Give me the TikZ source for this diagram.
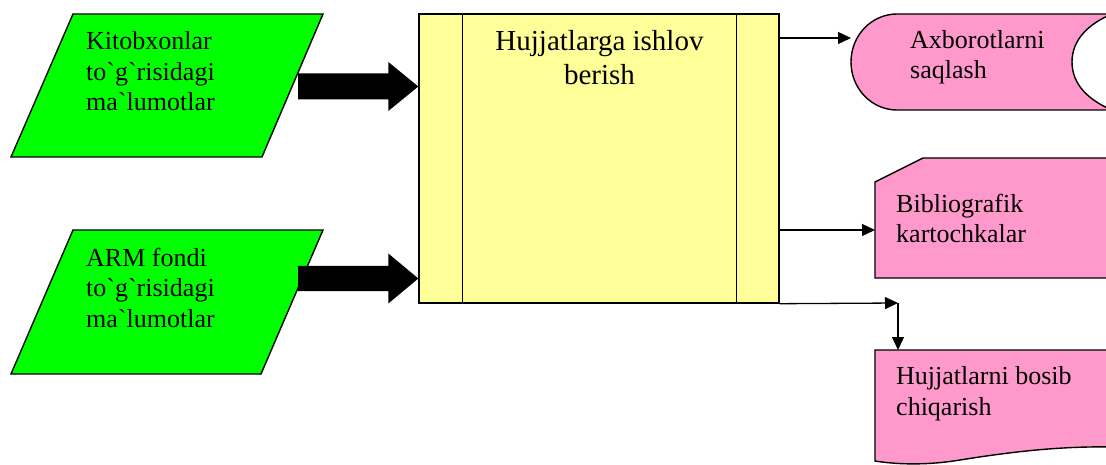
\documentclass[tikz,border=0pt]{standalone}
\usepackage{fontspec}
\setmainfont{Liberation Serif}[Ligatures=TeXOff]
\usetikzlibrary{arrows.meta,calc}
\definecolor{ingreen}{HTML}{00FF00}
\definecolor{procyellow}{HTML}{FFFF99}
\definecolor{outpink}{HTML}{FF99CC}
\tikzset{
  shapeline/.style={draw=black,line width=1.4pt,line join=miter},
  inbox/.style={shapeline,fill=ingreen},
  outbox/.style={shapeline,fill=outpink},
  procbox/.style={shapeline,fill=procyellow,minimum width=360pt,minimum height=289pt,inner sep=0pt},
  txt/.style={inner sep=0pt,anchor=base west,align=left,font=\fontsize{26}{30.5}\selectfont},
  heading/.style={inner sep=0pt,anchor=base,align=center,font=\fontsize{29}{34}\selectfont},
  conn/.style={draw=black,line width=1.3pt,-{Triangle[length=13pt,width=12pt]}},
  bigarrow/.style={fill=black}
}
\begin{document}
\begin{tikzpicture}[x=1pt,y=-1pt]
\useasboundingbox (0,0) rectangle (1106,465);
\clip (0,0) rectangle (1106,465);
% input parallelograms
\path[inbox] (73,14) -- (323,14) -- (262,157) -- (11,157) -- cycle;
\path[inbox] (73,230) -- (323,230) -- (261,374) -- (11,374) -- cycle;
\node[txt] (in1) at (86,111) {Kitobxonlar\\to`g`risidagi\\ma`lumotlar};
\node[txt] (in2) at (86,327) {ARM fondi\\to`g`risidagi\\ma`lumotlar};
% process box
\node[procbox] (proc) at (599,158.5) {};
\draw[shapeline] ([xshift=44pt]proc.north west) -- ([xshift=44pt]proc.south west);
\draw[shapeline] ([xshift=-43pt]proc.north east) -- ([xshift=-43pt]proc.south east);
\node[heading] (title) at (599.5,85) {Hujjatlarga ishlov\\berish};
% big arrows
\coordinate (a1) at (298,86.5);
\coordinate (a2) at (298,278.5);
\coordinate (t1) at (proc.west |- a1);
\coordinate (t2) at (proc.west |- a2);
\fill[bigarrow] ($(a1)+(0,-13)$) -- ($(t1)+(-30,-13)$) -- ($(t1)+(-30,-24.5)$) -- (t1)
  -- ($(t1)+(-30,24.5)$) -- ($(t1)+(-30,13)$) -- ($(a1)+(0,13)$) -- cycle;
\fill[bigarrow] ($(a2)+(0,-12.5)$) -- ($(t2)+(-30,-12.5)$) -- ($(t2)+(-30,-25)$) -- (t2)
  -- ($(t2)+(-30,25)$) -- ($(t2)+(-30,12.5)$) -- ($(a2)+(0,12.5)$) -- cycle;
% stored data
\path[outbox] (897,14) -- (1112,14)
  .. controls (1088,24) and (1072,40) .. (1072,62)
  .. controls (1072,84) and (1088,100) .. (1112,110)
  -- (897,110)
  .. controls (872,110) and (851,89) .. (851,62)
  .. controls (851,35) and (872,14) .. (897,14) -- cycle;
\node[txt] (store) at (910,79) {Axborotlarni\\saqlash};
% card
\path[outbox] (875,182) -- (923,158) -- (1112,158) -- (1112,278) -- (875,278) -- cycle;
\node[txt] (card) at (896,243) {Bibliografik\\kartochkalar};
% document
\path[outbox] (875,350) -- (1112,350) -- (1112,447)
  .. controls (1060,446) and (1010,452) .. (960,460)
  .. controls (930,465) and (900,465) .. (875,461) -- cycle;
\node[txt] (doc) at (896,415) {Hujjatlarni bosib\\chiqarish};
% connectors
\coordinate (s1) at (851,38);
\coordinate (s2) at (875,230);
\coordinate (corner) at (898,303);
\coordinate (d1) at (898,350);
\draw[conn] (proc.east |- s1) -- (s1);
\draw[conn] (proc.east |- s2) -- (s2);
\draw[conn] (proc.south east) -- (corner);
\draw[conn] (corner) -- (d1);
\end{tikzpicture}
\end{document}
